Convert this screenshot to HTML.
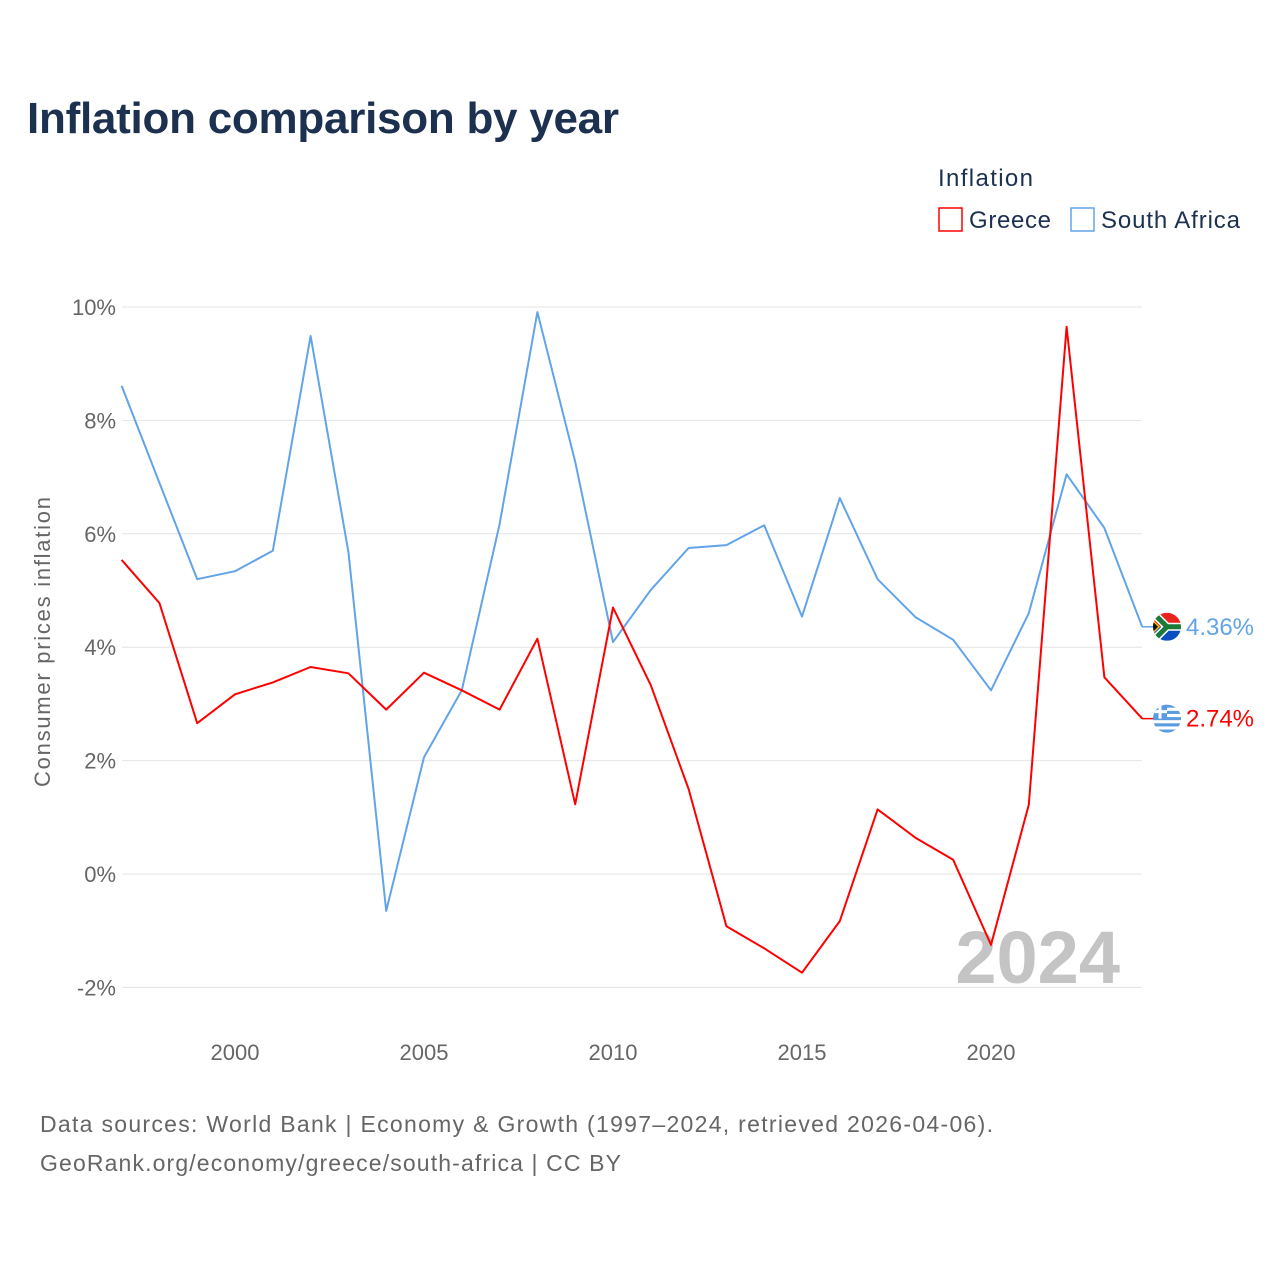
<!DOCTYPE html>
<html><head><meta charset="utf-8">
<style>
body{margin:0;width:1280px;height:1280px;background:#fff;font-family:"Liberation Sans",sans-serif;overflow:hidden}
</style></head>
<body>
<svg id="chart" width="1280" height="1280" xmlns="http://www.w3.org/2000/svg" font-family="Liberation Sans, sans-serif">
<defs>
<clipPath id="cg"><circle cx="0" cy="0" r="14"/></clipPath>
</defs>
<text x="27" y="133" font-size="44" font-weight="bold" fill="#1c3050" textLength="592">Inflation comparison by year</text>
<text x="938" y="186" font-size="24" fill="#1c3050" textLength="95">Inflation</text>
<g><rect x="939" y="208" width="23" height="23" fill="#fff" stroke="#f00" stroke-width="1.5"/><text x="969" y="228" font-size="24" fill="#1c3050" textLength="82">Greece</text></g>
<g><rect x="1071" y="208" width="23" height="23" fill="#fff" stroke="#61a4e8" stroke-width="1.5"/><text x="1101" y="228" font-size="24" fill="#1c3050" textLength="139">South Africa</text></g>
<g id="grid"></g>
<text x="1120" y="983" font-size="74" font-weight="bold" fill="#c4c4c4" text-anchor="end">2024</text>
<text transform="translate(50,642) rotate(-90)" font-size="22" fill="#666" text-anchor="middle" textLength="290">Consumer prices inflation</text>
<g id="series"></g>
<text x="40" y="1132" font-size="23" fill="#666" textLength="953">Data sources: World Bank | Economy &amp; Growth (1997–2024, retrieved 2026-04-06).</text>
<text x="40" y="1171" font-size="23" fill="#666" textLength="581">GeoRank.org/economy/greece/south-africa | CC BY</text>
</svg>
<script>
const years=[1997,1998,1999,2000,2001,2002,2003,2004,2005,2006,2007,2008,2009,2010,2011,2012,2013,2014,2015,2016,2017,2018,2019,2020,2021,2022,2023,2024];
const southAfrica=[8.61,6.9,5.2,5.34,5.7,9.49,5.68,-0.65,2.06,3.24,6.17,9.91,7.27,4.09,5.01,5.75,5.8,6.15,4.54,6.63,5.2,4.53,4.13,3.24,4.6,7.05,6.1,4.36];
const greece=[5.54,4.78,2.66,3.17,3.38,3.65,3.54,2.9,3.55,3.24,2.9,4.15,1.23,4.7,3.33,1.5,-0.92,-1.31,-1.74,-0.83,1.14,0.64,0.25,-1.25,1.22,9.65,3.47,2.74];
const yTicks=[-2,0,2,4,6,8,10];
const xTicks=[2000,2005,2010,2015,2020];
const NS="http://www.w3.org/2000/svg";
const xs=y=>121.6+(y-1997)*37.8;
const ys=v=>874-v*56.7;
function mk(tag,attrs,parent){const e=document.createElementNS(NS,tag);for(const k in attrs)e.setAttribute(k,attrs[k]);parent.appendChild(e);return e;}
const grid=document.getElementById('grid');
yTicks.forEach(t=>{
  const l=mk('line',{x1:122,x2:1142,y1:ys(t),y2:ys(t),stroke:'#e4e4e4','stroke-width':1},grid);
  
  
  const tx=mk('text',{x:116,y:ys(t)+8,'font-size':22,fill:'#666','text-anchor':'end'},grid);
  tx.textContent=t+'%';
  
  
});
xTicks.forEach(t=>{
  const tx=mk('text',{x:xs(t),y:1060,'font-size':22,fill:'#666','text-anchor':'middle'},grid);
  tx.textContent=t;
  
  
});
const ser=document.getElementById('series');
function flag(name,ly){
  const g=mk('g',{transform:'translate(1167,'+ly+')'},ser);
  
  
  const inner=mk('g',{'clip-path':'url(#cg)'},g);
  if(name==='greece'){
    for(let i=0;i<9;i++) mk('rect',{x:-14,y:-14+i*28/9,width:28,height:28/9+0.2,fill:i%2?'#fff':'#5b9be0'},inner);
    mk('rect',{x:-14,y:-14,width:14,height:14,fill:'#5b9be0'},inner);
    mk('rect',{x:-8.5,y:-14,width:3,height:14,fill:'#fff'},inner);
    mk('rect',{x:-14,y:-8.5,width:14,height:3,fill:'#fff'},inner);
  } else {
    mk('rect',{x:-14,y:-14,width:28,height:14,fill:'#e8221c'},inner);
    mk('rect',{x:-14,y:0,width:28,height:14,fill:'#0a4fbf'},inner);
    mk('path',{d:'M-14,-14 L0,0 L-14,14 M0,0 L14,0',stroke:'#fff','stroke-width':8,fill:'none'},inner);
    mk('path',{d:'M-14,-14 L0,0 L-14,14 M0,0 L14,0',stroke:'#1a7a3a','stroke-width':5,fill:'none'},inner);
    mk('path',{d:'M-14,-7 L-7,0 L-14,7 Z',fill:'#f5c400'},inner);
    mk('path',{d:'M-14,-5 L-9,0 L-14,5 Z',fill:'#111'},inner);
  }
}
function line(vals,color,name){
  const d=vals.map((v,i)=>(i?'L':'M')+xs(years[i]).toFixed(1)+','+ys(v).toFixed(1)).join(' ');
  const p=mk('path',{d:d,fill:'none',stroke:color,'stroke-width':2,'stroke-linejoin':'round'},ser);
  
  
  const last=vals[vals.length-1];
  const ly=ys(last);
  mk('line',{x1:1142,x2:1153,y1:ly,y2:ly,stroke:color,'stroke-width':1.5},ser);
  flag(name,ly);
  const t=mk('text',{x:1186,y:ly+8,'font-size':24,fill:color,textLength:68},ser);
  t.textContent=last.toFixed(2)+'%';
  
  
}
line(southAfrica,'#61a4e8','south-africa');
line(greece,'#ff0000','greece');
</script>
</body></html>
